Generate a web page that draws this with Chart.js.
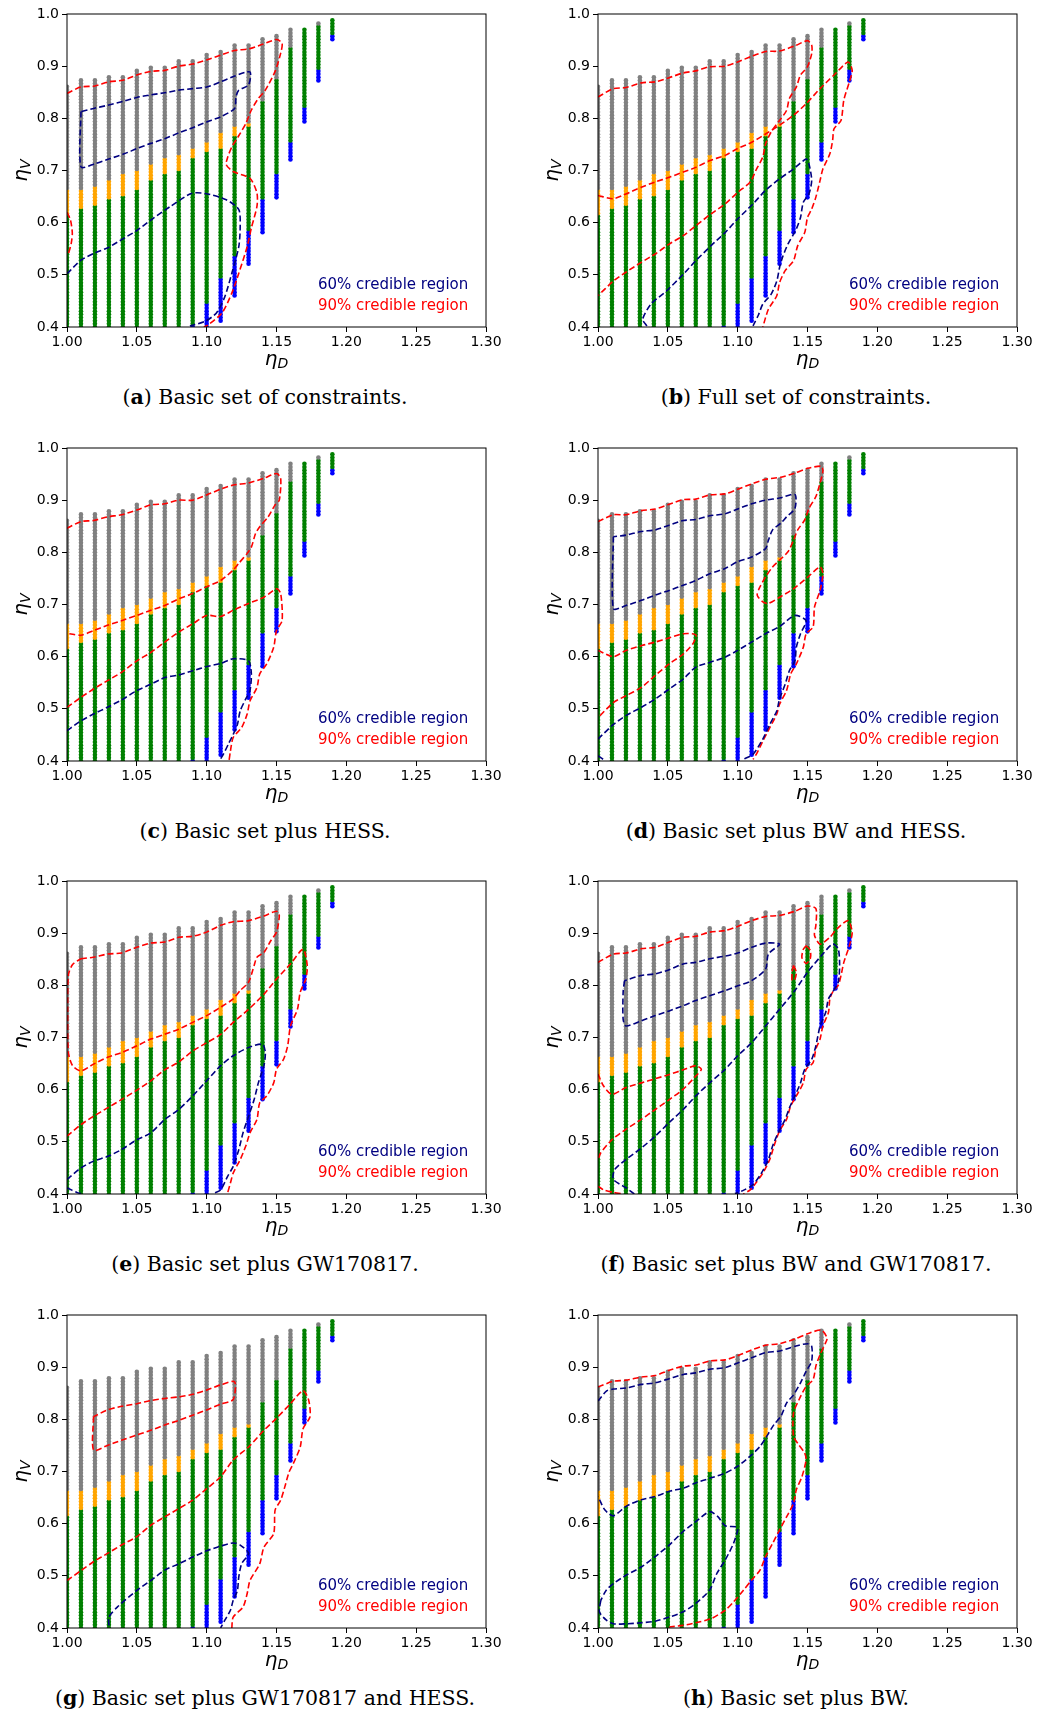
<!DOCTYPE html>
<html lang="en">
<head>
<meta charset="UTF-8">
<title>Credible regions in the eta_D - eta_V plane</title>
<script src="https://cdn.jsdelivr.net/npm/chart.js@4.4.4/dist/chart.umd.min.js"></script>
<style>
    body {
        margin: 0;
        width: 1053px;
        height: 1715px;
        position: relative;
        background: #fff;
        overflow: hidden;
    }
    .panel {
        position: absolute;
    }
    .caption {
        position: absolute;
        transform: translate(-50%, -50%);
        white-space: nowrap;
        font-family: "DejaVu Serif", serif;
        font-size: 20.5px;
        color: #000;
    }
</style>
</head>
<body>
<script>
// scan grid: columns of eta_D, each column coloured in bands of eta_V
const etaD      = [1.00, 1.01, 1.02, 1.03, 1.04, 1.05, 1.06, 1.07, 1.08, 1.09, 1.10, 1.11, 1.12, 1.13, 1.14, 1.15, 1.16, 1.17, 1.18, 1.19];
const colTop    = [0.862, 0.871, 0.871, 0.881, 0.881, 0.891, 0.901, 0.901, 0.911, 0.911, 0.921, 0.931, 0.941, 0.941, 0.951, 0.961, 0.971, 0.971, 0.981, 0.991];
const orangeTop = [0.663, 0.663, 0.672, 0.682, 0.692, 0.702, 0.712, 0.722, 0.733, 0.743, 0.753, 0.773, 0.783, 0.793, null, null, null, null, null, null];
const greenTop  = [0.615, 0.625, 0.634, 0.644, 0.654, 0.664, 0.683, 0.693, 0.703, 0.724, 0.734, 0.744, 0.765, 0.785, 0.835, 0.875, 0.935, 0.971, 0.981, 0.991];
const blueTop   = [null, null, null, null, null, null, null, null, null, 0.402, 0.445, 0.493, 0.535, 0.583, 0.644, 0.694, 0.754, 0.824, 0.893, 0.962];
const colBottom = [0.40, 0.40, 0.40, 0.40, 0.40, 0.40, 0.40, 0.40, 0.40, 0.40, 0.40, 0.41, 0.46, 0.52, 0.58, 0.65, 0.72, 0.79, 0.87, 0.95];
const V_STEP = 0.6 / 99;   // eta_V resolution of the scan

const xTicks = [1.00, 1.05, 1.10, 1.15, 1.20, 1.25, 1.30];
const yTicks = [0.4, 0.5, 0.6, 0.7, 0.8, 0.9, 1.0];

// contour lines [eta_D, eta_V]
// (a) basic set
const aRed1 = [[1.00,0.848],[1.01,0.86],[1.02,0.862],[1.03,0.87],[1.04,0.873],[1.05,0.883],[1.06,0.89],[1.07,0.892],[1.08,0.90],[1.09,0.904],[1.10,0.912],[1.11,0.921],[1.12,0.93],[1.13,0.933],[1.14,0.942],[1.15,0.951],[1.154,0.944],[1.153,0.925],[1.149,0.89],[1.142,0.854],[1.137,0.838],[1.132,0.816],[1.128,0.79],[1.124,0.771],[1.118,0.745],[1.115,0.725],[1.114,0.711],[1.119,0.698],[1.131,0.685],[1.136,0.657],[1.136,0.631],[1.132,0.59],[1.129,0.554],[1.123,0.503],[1.118,0.465],[1.111,0.427],[1.101,0.404],[1.098,0.40]];
const aRed2 = [[1.00,0.62],[1.0025,0.605],[1.0038,0.58],[1.003,0.56],[1.001,0.54]];
const aNavy1 = [[1.01,0.813],[1.01,0.707],[1.02,0.713],[1.031,0.723],[1.041,0.732],[1.05,0.742],[1.06,0.752],[1.07,0.761],[1.08,0.772],[1.09,0.782],[1.10,0.793],[1.11,0.803],[1.12,0.819],[1.121,0.841],[1.123,0.854],[1.13,0.864],[1.131,0.889],[1.12,0.881],[1.11,0.87],[1.10,0.86],[1.09,0.857],[1.08,0.854],[1.07,0.849],[1.06,0.845],[1.05,0.84],[1.041,0.833],[1.029,0.825],[1.019,0.819],[1.01,0.813]];
const aNavy2 = [[1.00,0.502],[1.01,0.528],[1.02,0.542],[1.03,0.553],[1.04,0.569],[1.05,0.585],[1.06,0.605],[1.074,0.631],[1.089,0.656],[1.099,0.656],[1.114,0.644],[1.123,0.625],[1.124,0.593],[1.123,0.554],[1.118,0.503],[1.113,0.458],[1.107,0.427],[1.099,0.411],[1.088,0.402]];
// (b) full set
const bRed1 = [[1.00,0.841],[1.011,0.857],[1.02,0.859],[1.031,0.868],[1.041,0.87],[1.051,0.878],[1.061,0.887],[1.07,0.891],[1.08,0.899],[1.091,0.90],[1.10,0.908],[1.11,0.919],[1.12,0.928],[1.13,0.929],[1.141,0.939],[1.15,0.949],[1.153,0.94],[1.153,0.924],[1.15,0.899],[1.145,0.883],[1.142,0.86],[1.137,0.838],[1.135,0.815],[1.13,0.796],[1.124,0.774],[1.12,0.751],[1.118,0.726],[1.113,0.70],[1.109,0.678],[1.10,0.658],[1.091,0.636],[1.081,0.617],[1.07,0.594],[1.061,0.575],[1.051,0.559],[1.041,0.54],[1.031,0.524],[1.02,0.505],[1.011,0.488],[1.00,0.46]];
const bRed2 = [[1.00,0.652],[1.011,0.646],[1.02,0.655],[1.031,0.668],[1.041,0.678],[1.051,0.687],[1.061,0.697],[1.07,0.706],[1.08,0.719],[1.091,0.729],[1.10,0.742],[1.11,0.754],[1.12,0.77],[1.13,0.787],[1.14,0.806],[1.149,0.828],[1.159,0.857],[1.169,0.883],[1.179,0.908],[1.182,0.892],[1.18,0.87],[1.176,0.835],[1.174,0.796],[1.169,0.78],[1.168,0.758],[1.166,0.732],[1.161,0.703],[1.159,0.681],[1.156,0.649],[1.153,0.626],[1.15,0.61],[1.148,0.581],[1.143,0.556],[1.14,0.527],[1.134,0.508],[1.13,0.485],[1.128,0.46],[1.122,0.434],[1.118,0.40]];
const bNavy = [[1.035,0.402],[1.032,0.415],[1.038,0.444],[1.049,0.469],[1.061,0.501],[1.07,0.527],[1.081,0.556],[1.091,0.581],[1.10,0.607],[1.111,0.636],[1.12,0.662],[1.13,0.684],[1.14,0.703],[1.149,0.722],[1.151,0.713],[1.153,0.681],[1.151,0.655],[1.147,0.639],[1.145,0.61],[1.142,0.588],[1.14,0.578],[1.136,0.559],[1.132,0.533],[1.13,0.514],[1.128,0.488],[1.124,0.463],[1.118,0.444],[1.115,0.424],[1.111,0.402]];
// (c) basic set plus HESS
const cRed1 = [[1.00,0.846],[1.01,0.859],[1.019,0.861],[1.029,0.868],[1.039,0.872],[1.05,0.881],[1.06,0.891],[1.07,0.893],[1.08,0.90],[1.09,0.90],[1.10,0.91],[1.11,0.921],[1.119,0.929],[1.13,0.933],[1.141,0.942],[1.15,0.951],[1.153,0.942],[1.152,0.90],[1.149,0.891],[1.144,0.868],[1.138,0.849],[1.135,0.836],[1.132,0.81],[1.129,0.798],[1.123,0.779],[1.119,0.766],[1.11,0.746],[1.10,0.734],[1.09,0.721],[1.08,0.711],[1.07,0.698],[1.06,0.689],[1.05,0.679],[1.039,0.669],[1.029,0.66],[1.019,0.65],[1.01,0.641],[1.002,0.644],[1.00,0.645]];
const cRed2 = [[1.00,0.503],[1.01,0.522],[1.019,0.538],[1.029,0.554],[1.039,0.57],[1.05,0.592],[1.06,0.608],[1.07,0.628],[1.08,0.647],[1.09,0.663],[1.10,0.679],[1.11,0.677],[1.119,0.689],[1.13,0.702],[1.141,0.714],[1.15,0.73],[1.153,0.721],[1.154,0.669],[1.15,0.65],[1.148,0.618],[1.143,0.586],[1.138,0.567],[1.136,0.541],[1.131,0.515],[1.129,0.49],[1.125,0.464],[1.119,0.445],[1.117,0.419],[1.116,0.40]];
const cNavy = [[1.00,0.458],[1.01,0.477],[1.019,0.49],[1.029,0.503],[1.039,0.517],[1.05,0.535],[1.06,0.547],[1.07,0.56],[1.08,0.565],[1.09,0.573],[1.10,0.581],[1.11,0.587],[1.119,0.596],[1.13,0.592],[1.132,0.567],[1.131,0.535],[1.128,0.519],[1.124,0.496],[1.122,0.47],[1.119,0.451],[1.116,0.435],[1.112,0.413],[1.109,0.40]];
// (d) basic set plus BW and HESS
const dRed1 = [[1.00,0.859],[1.011,0.872],[1.02,0.872],[1.031,0.88],[1.041,0.883],[1.051,0.892],[1.061,0.901],[1.07,0.902],[1.08,0.91],[1.091,0.912],[1.10,0.921],[1.11,0.931],[1.12,0.94],[1.131,0.944],[1.141,0.952],[1.15,0.961],[1.16,0.965],[1.161,0.955],[1.159,0.933],[1.156,0.907],[1.151,0.884],[1.148,0.862],[1.143,0.843],[1.14,0.823],[1.136,0.801],[1.13,0.785],[1.125,0.772],[1.12,0.753],[1.116,0.734],[1.114,0.718],[1.118,0.705],[1.122,0.702],[1.13,0.714],[1.14,0.73],[1.15,0.752],[1.159,0.772],[1.161,0.759],[1.159,0.727],[1.155,0.695],[1.154,0.657],[1.149,0.644],[1.147,0.618],[1.142,0.586],[1.138,0.567],[1.135,0.535],[1.13,0.509],[1.128,0.49],[1.123,0.464],[1.118,0.438],[1.114,0.416],[1.111,0.403]];
const dRed2 = [[1.00,0.612],[1.011,0.60],[1.02,0.612],[1.031,0.621],[1.041,0.628],[1.051,0.636],[1.061,0.644],[1.07,0.642],[1.068,0.625],[1.061,0.605],[1.051,0.586],[1.041,0.564],[1.031,0.541],[1.02,0.525],[1.011,0.512],[1.00,0.483]];
const dNavy1 = [[1.011,0.83],[1.011,0.692],[1.02,0.698],[1.031,0.708],[1.041,0.718],[1.051,0.727],[1.061,0.737],[1.07,0.746],[1.08,0.759],[1.091,0.769],[1.10,0.782],[1.11,0.791],[1.12,0.807],[1.122,0.823],[1.125,0.843],[1.131,0.856],[1.135,0.868],[1.141,0.884],[1.141,0.911],[1.13,0.904],[1.12,0.90],[1.11,0.893],[1.10,0.883],[1.091,0.874],[1.08,0.87],[1.07,0.863],[1.061,0.861],[1.051,0.852],[1.041,0.843],[1.031,0.84],[1.02,0.833],[1.011,0.83]];
const dNavy2 = [[1.00,0.442],[1.011,0.47],[1.02,0.487],[1.031,0.503],[1.041,0.519],[1.051,0.538],[1.061,0.557],[1.07,0.58],[1.08,0.589],[1.091,0.599],[1.10,0.612],[1.11,0.628],[1.12,0.644],[1.13,0.658],[1.141,0.679],[1.149,0.669],[1.145,0.644],[1.142,0.618],[1.141,0.592],[1.137,0.573],[1.134,0.547],[1.13,0.519],[1.128,0.496],[1.123,0.47],[1.118,0.442],[1.111,0.413],[1.104,0.403]];
const dNavy3 = [[1.00,0.41],[1.005,0.401]];
// (e) basic set plus GW170817
const eRed1 = [[1.01,0.851],[1.019,0.854],[1.029,0.86],[1.039,0.862],[1.05,0.873],[1.06,0.881],[1.07,0.883],[1.08,0.892],[1.09,0.894],[1.10,0.902],[1.11,0.915],[1.119,0.922],[1.13,0.924],[1.141,0.933],[1.15,0.942],[1.152,0.934],[1.15,0.902],[1.146,0.886],[1.141,0.863],[1.136,0.854],[1.134,0.838],[1.13,0.806],[1.124,0.79],[1.119,0.774],[1.11,0.758],[1.10,0.742],[1.09,0.729],[1.08,0.716],[1.07,0.706],[1.06,0.697],[1.05,0.684],[1.039,0.671],[1.029,0.662],[1.019,0.649],[1.01,0.636],[1.004,0.646],[1.001,0.671],[1.0005,0.75],[1.001,0.82],[1.004,0.84],[1.01,0.851]];
const eRed2 = [[1.00,0.511],[1.01,0.533],[1.019,0.549],[1.029,0.565],[1.039,0.581],[1.05,0.599],[1.06,0.617],[1.07,0.638],[1.08,0.653],[1.09,0.674],[1.10,0.69],[1.11,0.706],[1.119,0.729],[1.13,0.754],[1.141,0.783],[1.15,0.812],[1.16,0.841],[1.169,0.869],[1.172,0.838],[1.171,0.812],[1.167,0.787],[1.165,0.754],[1.16,0.722],[1.158,0.684],[1.155,0.658],[1.15,0.639],[1.148,0.613],[1.143,0.588],[1.138,0.575],[1.136,0.543],[1.131,0.517],[1.128,0.492],[1.124,0.466],[1.119,0.44],[1.117,0.421],[1.115,0.402]];
const eNavy1 = [[1.00,0.428],[1.01,0.45],[1.019,0.463],[1.029,0.472],[1.039,0.485],[1.05,0.504],[1.06,0.517],[1.07,0.543],[1.08,0.562],[1.09,0.588],[1.10,0.617],[1.11,0.646],[1.119,0.665],[1.13,0.681],[1.14,0.687],[1.142,0.671],[1.141,0.646],[1.137,0.613],[1.134,0.581],[1.13,0.549],[1.126,0.517],[1.123,0.485],[1.119,0.453],[1.115,0.434],[1.11,0.408],[1.105,0.401]];
const eNavy2 = [[1.00,0.412],[1.007,0.403],[1.011,0.40]];
// (f) basic set plus BW and GW170817
const fRed1 = [[1.00,0.844],[1.011,0.86],[1.02,0.862],[1.031,0.87],[1.041,0.873],[1.051,0.883],[1.061,0.892],[1.07,0.894],[1.08,0.902],[1.091,0.905],[1.10,0.913],[1.11,0.924],[1.12,0.932],[1.13,0.934],[1.141,0.942],[1.15,0.952],[1.156,0.947],[1.156,0.915],[1.155,0.896],[1.159,0.879],[1.166,0.892],[1.171,0.908],[1.179,0.924],[1.182,0.902],[1.18,0.876],[1.176,0.844],[1.174,0.819],[1.172,0.80],[1.168,0.787],[1.166,0.774],[1.165,0.748],[1.161,0.722],[1.159,0.697],[1.156,0.678],[1.154,0.652],[1.149,0.639],[1.147,0.613],[1.142,0.588],[1.138,0.569],[1.135,0.543],[1.13,0.521],[1.126,0.492],[1.123,0.466],[1.118,0.44],[1.113,0.421],[1.109,0.408],[1.104,0.40]];
const fRed2 = [[1.149,0.876],[1.152,0.867],[1.152,0.851],[1.149,0.842],[1.146,0.853],[1.147,0.869],[1.149,0.876]];
const fRed3 = [[1.14,0.838],[1.142,0.825],[1.141,0.812],[1.139,0.809],[1.139,0.826],[1.14,0.838]];
const fRed4 = [[1.00,0.63],[1.004,0.607],[1.01,0.591],[1.02,0.604],[1.031,0.613],[1.041,0.621],[1.051,0.629],[1.061,0.638],[1.07,0.646],[1.074,0.639],[1.07,0.626],[1.061,0.601],[1.051,0.581],[1.041,0.562],[1.031,0.543],[1.02,0.524],[1.01,0.504],[1.002,0.479],[1.00,0.466]];
const fRed5 = [[1.00,0.415],[1.004,0.408],[1.011,0.403],[1.018,0.40]];
const fNavy1 = [[1.019,0.809],[1.018,0.787],[1.018,0.735],[1.02,0.722],[1.031,0.732],[1.041,0.742],[1.051,0.751],[1.061,0.761],[1.07,0.771],[1.08,0.78],[1.091,0.79],[1.10,0.799],[1.11,0.809],[1.12,0.831],[1.122,0.86],[1.13,0.879],[1.12,0.881],[1.11,0.873],[1.10,0.862],[1.091,0.856],[1.08,0.851],[1.07,0.844],[1.061,0.841],[1.051,0.83],[1.041,0.822],[1.031,0.819],[1.019,0.809]];
const fNavy2 = [[1.026,0.40],[1.02,0.412],[1.011,0.428],[1.012,0.447],[1.02,0.466],[1.031,0.488],[1.041,0.511],[1.051,0.537],[1.061,0.562],[1.07,0.588],[1.08,0.613],[1.091,0.639],[1.10,0.665],[1.11,0.69],[1.12,0.722],[1.13,0.754],[1.141,0.79],[1.15,0.825],[1.16,0.857],[1.168,0.879],[1.172,0.87],[1.173,0.838],[1.172,0.806],[1.168,0.787],[1.165,0.774],[1.163,0.748],[1.159,0.722],[1.156,0.684],[1.153,0.658],[1.148,0.639],[1.145,0.613],[1.141,0.588],[1.137,0.565],[1.134,0.543],[1.129,0.517],[1.125,0.492],[1.122,0.466],[1.117,0.44],[1.111,0.418],[1.104,0.407],[1.098,0.401]];
// (g) basic set plus GW170817 and HESS
const gRed1 = [[1.019,0.805],[1.019,0.741],[1.029,0.75],[1.039,0.76],[1.05,0.77],[1.06,0.779],[1.07,0.789],[1.08,0.798],[1.09,0.808],[1.10,0.818],[1.11,0.829],[1.119,0.838],[1.12,0.872],[1.11,0.866],[1.10,0.856],[1.09,0.848],[1.08,0.843],[1.07,0.84],[1.06,0.836],[1.05,0.83],[1.039,0.825],[1.029,0.818],[1.019,0.805]];
const gRed2 = [[1.00,0.491],[1.01,0.51],[1.019,0.527],[1.029,0.543],[1.039,0.559],[1.05,0.575],[1.06,0.597],[1.07,0.613],[1.08,0.629],[1.09,0.645],[1.10,0.667],[1.11,0.69],[1.119,0.722],[1.13,0.747],[1.141,0.779],[1.15,0.802],[1.16,0.83],[1.169,0.855],[1.173,0.837],[1.174,0.805],[1.169,0.782],[1.167,0.747],[1.162,0.715],[1.159,0.699],[1.156,0.671],[1.153,0.645],[1.149,0.626],[1.148,0.581],[1.141,0.555],[1.138,0.523],[1.131,0.491],[1.129,0.466],[1.126,0.44],[1.119,0.421],[1.118,0.40]];
const gNavy = [[1.03,0.405],[1.03,0.421],[1.036,0.44],[1.05,0.472],[1.06,0.491],[1.07,0.511],[1.08,0.523],[1.09,0.536],[1.10,0.548],[1.11,0.557],[1.119,0.563],[1.124,0.559],[1.13,0.543],[1.125,0.523],[1.123,0.498],[1.122,0.472],[1.119,0.453],[1.117,0.434],[1.113,0.415],[1.11,0.40]];
// (h) basic set plus BW
const hRed = [[1.00,0.862],[1.011,0.873],[1.02,0.875],[1.031,0.881],[1.041,0.884],[1.051,0.894],[1.061,0.902],[1.07,0.904],[1.08,0.912],[1.091,0.914],[1.10,0.922],[1.11,0.933],[1.12,0.942],[1.13,0.945],[1.141,0.954],[1.15,0.964],[1.16,0.971],[1.164,0.956],[1.163,0.947],[1.159,0.924],[1.156,0.902],[1.154,0.876],[1.149,0.863],[1.144,0.838],[1.14,0.812],[1.14,0.767],[1.143,0.754],[1.148,0.735],[1.149,0.722],[1.146,0.69],[1.142,0.665],[1.14,0.639],[1.135,0.613],[1.13,0.588],[1.125,0.562],[1.12,0.537],[1.116,0.511],[1.11,0.492],[1.104,0.472],[1.097,0.45],[1.091,0.434],[1.081,0.418],[1.07,0.41],[1.061,0.405],[1.051,0.402]];
const hNavy1 = [[1.00,0.835],[1.006,0.854],[1.011,0.858],[1.02,0.86],[1.031,0.867],[1.041,0.87],[1.051,0.878],[1.061,0.886],[1.07,0.889],[1.08,0.896],[1.091,0.899],[1.10,0.908],[1.11,0.918],[1.12,0.928],[1.13,0.931],[1.141,0.94],[1.15,0.945],[1.153,0.94],[1.153,0.912],[1.149,0.892],[1.145,0.87],[1.14,0.847],[1.135,0.831],[1.131,0.806],[1.126,0.79],[1.12,0.764],[1.116,0.748],[1.11,0.732],[1.10,0.71],[1.091,0.697],[1.08,0.687],[1.07,0.678],[1.061,0.668],[1.051,0.662],[1.041,0.652],[1.031,0.646],[1.02,0.633],[1.011,0.615],[1.005,0.626],[1.00,0.652]];
const hNavy2 = [[1.002,0.453],[1.001,0.431],[1.006,0.415],[1.011,0.408],[1.02,0.408],[1.031,0.41],[1.041,0.413],[1.051,0.421],[1.061,0.431],[1.07,0.447],[1.08,0.473],[1.085,0.504],[1.091,0.53],[1.097,0.562],[1.10,0.588],[1.099,0.594],[1.091,0.596],[1.086,0.613],[1.08,0.623],[1.07,0.604],[1.061,0.585],[1.051,0.559],[1.041,0.537],[1.031,0.517],[1.02,0.501],[1.011,0.485],[1.006,0.473],[1.002,0.453]];

const panels = [
    { tag: 'a', text: ' Basic set of constraints.',         red: [aRed1, aRed2], navy: [aNavy1, aNavy2] },
    { tag: 'b', text: ' Full set of constraints.',          red: [bRed1, bRed2], navy: [bNavy] },
    { tag: 'c', text: ' Basic set plus HESS.',              red: [cRed1, cRed2], navy: [cNavy] },
    { tag: 'd', text: ' Basic set plus BW and HESS.',       red: [dRed1, dRed2], navy: [dNavy1, dNavy2, dNavy3] },
    { tag: 'e', text: ' Basic set plus GW170817.',          red: [eRed1, eRed2], navy: [eNavy1, eNavy2] },
    { tag: 'f', text: ' Basic set plus BW and GW170817.',   red: [fRed1, fRed2, fRed3, fRed4, fRed5], navy: [fNavy1, fNavy2] },
    { tag: 'g', text: ' Basic set plus GW170817 and HESS.', red: [gRed1, gRed2], navy: [gNavy] },
    { tag: 'h', text: ' Basic set plus BW.',                red: [hRed], navy: [hNavy1, hNavy2] }
];

const DOT_COLORS = { gray: '#808080', orange: '#ffa500', green: '#008000', blue: '#0000ff' };
const NAVY = '#000080';
const RED = '#ff0000';

// layout (page pixels)
const colLeft = [67, 598];                // left edge of plot area
const rowTop = [14, 447.5, 881, 1315];    // top edge of plot area
const PLOT_W = 419, PLOT_H = 313;
const CAN_W = 522, CAN_H = 372;

function buildDots() {
    const sets = { gray: [], orange: [], green: [], blue: [] };
    etaD.forEach((d, i) => {
        for (let k = 0; k < 100; k++) {
            const v = 0.4 + k * V_STEP;
            if (v < colBottom[i] - 0.002 || v > colTop[i] + 0.002) continue;
            let c;
            if (blueTop[i] !== null && v <= blueTop[i]) c = 'blue';
            else if (v <= greenTop[i]) c = 'green';
            else if (orangeTop[i] !== null && v <= orangeTop[i]) c = 'orange';
            else c = 'gray';
            sets[c].push({ x: d, y: v });
        }
    });
    return sets;
}
const dots = buildDots();

function drawEta(ctx, x, y, sub, rotate) {
    ctx.save();
    ctx.translate(x, y);
    if (rotate) ctx.rotate(-Math.PI / 2);
    const mainFont = 'italic 20px "DejaVu Sans"';
    const subFont = 'italic 14px "DejaVu Sans"';
    ctx.font = mainFont;
    const w1 = ctx.measureText('\u03b7').width;
    ctx.font = subFont;
    const w2 = ctx.measureText(sub).width;
    const x0 = -(w1 + w2) / 2;
    ctx.fillStyle = '#000';
    ctx.textBaseline = 'alphabetic';
    ctx.textAlign = 'left';
    ctx.font = mainFont;
    ctx.fillText('\u03b7', x0, 0);
    ctx.font = subFont;
    ctx.fillText(sub, x0 + w1, 3);
    ctx.restore();
}

const decor = {
    id: 'decor',
    afterDraw(chart) {
        const { ctx, chartArea: a } = chart;
        ctx.save();
        ctx.strokeStyle = '#000';
        ctx.lineWidth = 1;
        ctx.strokeRect(a.left, a.top, a.right - a.left, a.bottom - a.top);
        ctx.font = '15px "DejaVu Sans"';
        ctx.textBaseline = 'middle';
        ctx.textAlign = 'left';
        ctx.fillStyle = NAVY;
        ctx.fillText('60% credible region', a.left + 251, a.bottom - 42);
        ctx.fillStyle = RED;
        ctx.fillText('90% credible region', a.left + 251, a.bottom - 21);
        ctx.restore();
        drawEta(ctx, (a.left + a.right) / 2, a.bottom + 38, 'D', false);
        drawEta(ctx, a.left - 40, (a.top + a.bottom) / 2, 'V', true);
    }
};

function lineSet(path, color) {
    return {
        data: path.map(p => ({ x: p[0], y: p[1] })),
        showLine: true,
        borderColor: color,
        borderWidth: 1.6,
        borderDash: [6, 3],
        pointRadius: 0,
        tension: 0.25,
        fill: false,
        order: 0
    };
}

function dotSet(key) {
    return {
        data: dots[key],
        backgroundColor: DOT_COLORS[key],
        borderColor: DOT_COLORS[key],
        borderWidth: 0,
        pointRadius: 2.3,
        clip: 0,
        order: 1
    };
}

panels.forEach((p, idx) => {
    const col = idx % 2, row = Math.floor(idx / 2);
    const left = colLeft[col] - 67, top = rowTop[row] - 14;

    const wrap = document.createElement('div');
    wrap.className = 'panel';
    wrap.style.left = left + 'px';
    wrap.style.top = top + 'px';
    wrap.style.width = CAN_W + 'px';
    wrap.style.height = (CAN_H + 45) + 'px';
    const canvas = document.createElement('canvas');
    canvas.width = CAN_W;
    canvas.height = CAN_H;
    wrap.appendChild(canvas);
    const cap = document.createElement('div');
    cap.className = 'caption';
    cap.style.left = '265px';
    cap.style.top = '397px';
    cap.innerHTML = '(<b>' + p.tag + '</b>)' + p.text;
    wrap.appendChild(cap);
    document.body.appendChild(wrap);

    const datasets = [];
    p.navy.forEach(path => datasets.push(lineSet(path, NAVY)));
    p.red.forEach(path => datasets.push(lineSet(path, RED)));
    ['gray', 'orange', 'green', 'blue'].forEach(k => datasets.push(dotSet(k)));

    new Chart(canvas, {
        type: 'scatter',
        data: { datasets: datasets },
        options: {
            responsive: false,
            animation: false,
            layout: { padding: { top: 14, right: CAN_W - 67 - PLOT_W, left: 0, bottom: 0 } },
            plugins: { legend: { display: false }, tooltip: { enabled: false } },
            scales: {
                x: {
                    type: 'linear',
                    min: 1.0,
                    max: 1.3,
                    afterFit: s => { s.height = CAN_H - 14 - PLOT_H; },
                    afterBuildTicks: s => { s.ticks = xTicks.map(v => ({ value: v })); },
                    ticks: {
                        callback: v => Number(v).toFixed(2),
                        color: '#000',
                        font: { family: '"DejaVu Sans"', size: 14 },
                        padding: 2,
                        maxRotation: 0
                    },
                    grid: { drawOnChartArea: false, drawTicks: true, tickLength: 5, color: '#000' },
                    border: { display: false }
                },
                y: {
                    type: 'linear',
                    min: 0.4,
                    max: 1.0,
                    afterFit: s => { s.width = 67; },
                    afterBuildTicks: s => { s.ticks = yTicks.map(v => ({ value: v })); },
                    ticks: {
                        callback: v => Number(v).toFixed(1),
                        color: '#000',
                        font: { family: '"DejaVu Sans"', size: 14 },
                        padding: 3
                    },
                    grid: { drawOnChartArea: false, drawTicks: true, tickLength: 5, color: '#000' },
                    border: { display: false }
                }
            }
        },
        plugins: [decor]
    });
});
</script>
</body>
</html>
